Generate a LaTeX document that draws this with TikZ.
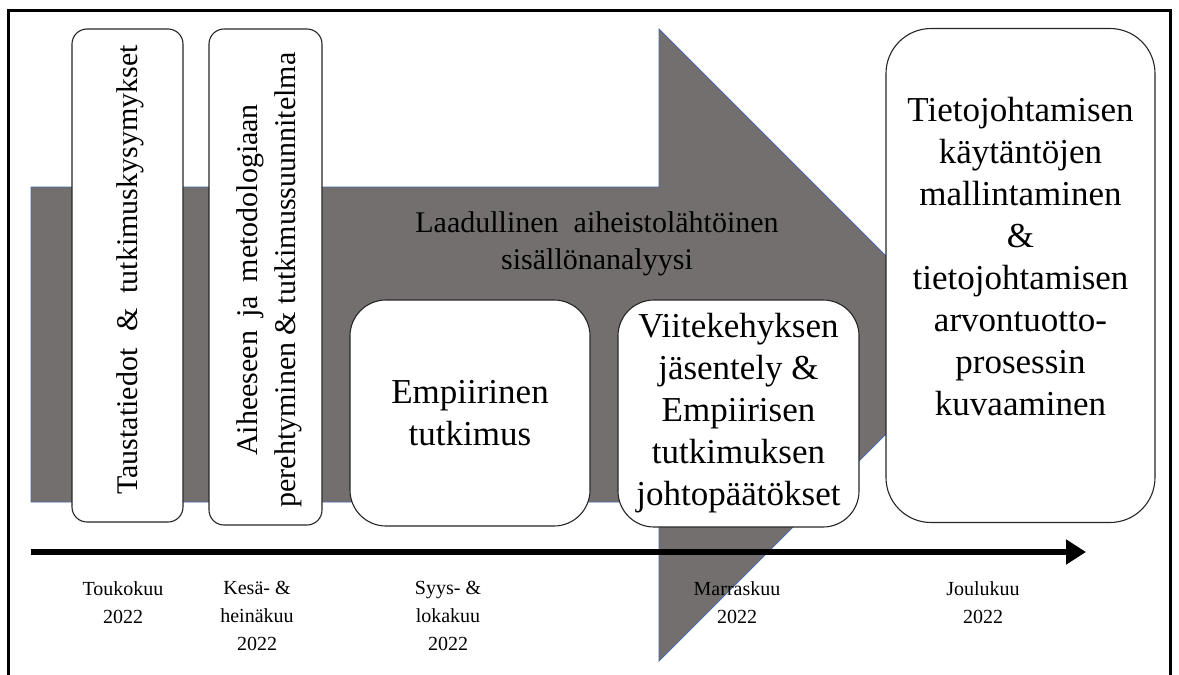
\documentclass[tikz,border=0pt]{standalone}
\usepackage{fontspec}
\setmainfont{Liberation Serif}
\usetikzlibrary{arrows.meta}
\definecolor{arrowgray}{RGB}{116,111,111}
\definecolor{arrowedge}{RGB}{72,104,168}
\begin{document}
\begin{tikzpicture}[x=1pt,y=-1pt,
	phase/.style={draw=black!85,line width=1.1pt,fill=white,rounded corners=15pt,inner sep=0pt},
	result/.style={phase,rounded corners=36pt},
	final/.style={phase,rounded corners=45pt},
	boxtext/.style={align=center,inner sep=0pt,font=\fontsize{35}{42}\selectfont},
	sidetext/.style={align=center,rotate=90,inner sep=0pt,font=\fontsize{30}{38}\selectfont},
	month/.style={align=center,anchor=north,inner sep=0pt,font=\fontsize{20}{28}\selectfont}]
	\useasboundingbox (0,0) rectangle (1179,675);

	% frame and big process arrow
	\draw[line width=3.5pt] (8.5,676) -- (8.5,10.5) -- (1170.5,10.5) -- (1170.5,676);
	\draw[fill=arrowgray,draw=arrowedge,line width=0.8pt] (31,187) -- (659,187) -- (659,29) -- (975,345) -- (659,661) -- (659,502) -- (31,502) -- cycle;
	\node[boxtext,font=\fontsize{30}{37}\selectfont] (analyysi) at (597,244) {Laadullinen\hspace{0.5em}aiheistolähtöinen\\sisällönanalyysi};

	\node[phase,minimum width=111,minimum height=493] (tausta) at (127.5,275.5) {};
	\node[sidetext] (taustatext) at (130,270) {Taustatiedot\hspace{0.55em}\&\hspace{0.5em}tutkimuskysymykset};
	\node[phase,minimum width=113,minimum height=496] (perehtyminen) at (265.5,277) {};
	\node[sidetext] (perehtyminentext) at (269,280) {Aiheeseen\hspace{0.45em}ja\hspace{0.45em}metodologiaan\\perehtyminen \& tutkimussuunnitelma};
	\node[result,boxtext,minimum width=240,minimum height=226] (empiria) at (470,413) {Empiirinen\\tutkimus};
	\node[result,boxtext,minimum width=241,minimum height=227] (viitekehys) at (738.5,413.5) {Viitekehyksen\\jäsentely \&\\Empiirisen\\tutkimuksen\\johtopäätökset};
	\node[final,minimum width=269,minimum height=494] (mallinnus) at (1020.5,275.5) {};
	\node[boxtext] (mallinnustext) at (1020.5,257) {Tietojohtamisen\\käytäntöjen\\mallintaminen\\\&\\tietojohtamisen\\arvontuotto-\\prosessin\\kuvaaminen};

	% timeline
	\coordinate (tstart) at (31,552);
	\coordinate (tend) at (1086,552);
	\draw[line width=6pt,-{Triangle[length=20pt,width=24pt]}] (tstart) -- (tend);

	\node[month] (toukokuu) at (123,581) {Toukokuu\\2022};
	\node[month] (kesa) at (257,581) {Kesä- \&\\heinäkuu\\2022};
	\node[month] (syys) at (448,581) {Syys- \&\\lokakuu\\2022};
	\node[month] (marras) at (737,581) {Marraskuu\\2022};
	\node[month] (joulu) at (983,581) {Joulukuu\\2022};

\end{tikzpicture}
\end{document}
